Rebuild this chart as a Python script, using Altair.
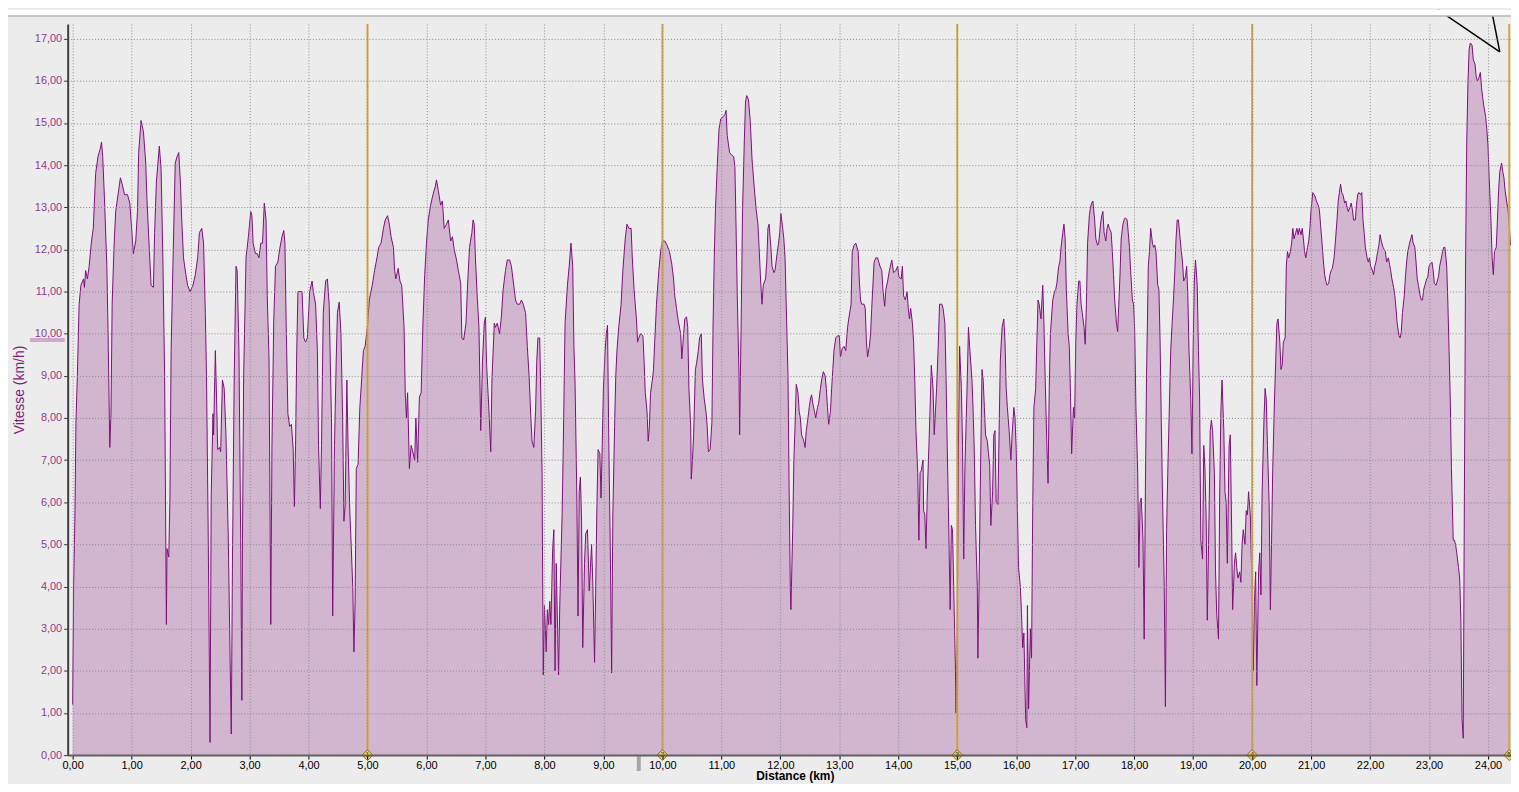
import altair as alt
import pandas as pd

# ---- data (distance km, speed km/h) ----
km_lap1 = [0.0, 0.017, 0.04, 0.056, 0.08, 0.11, 0.14, 0.185, 0.2, 0.22, 0.25, 0.28, 0.32, 0.35, 0.39, 0.43, 0.47, 0.49, 0.51, 0.54,
           0.58, 0.6, 0.63, 0.65, 0.67, 0.7, 0.73, 0.76, 0.79, 0.81, 0.84, 0.88, 0.93, 0.97, 1.0, 1.03, 1.07, 1.1, 1.12, 1.16,
           1.2, 1.24, 1.26, 1.29, 1.33, 1.37, 1.39, 1.42, 1.47, 1.5, 1.53, 1.56, 1.58, 1.59, 1.6, 1.63, 1.65, 1.67, 1.7, 1.74,
           1.77, 1.8, 1.83, 1.85, 1.88, 1.92, 1.95, 1.99, 2.04, 2.08, 2.12, 2.15, 2.19, 2.22, 2.25, 2.27, 2.3, 2.33, 2.35, 2.38,
           2.39, 2.42, 2.44, 2.46, 2.49, 2.51, 2.54, 2.57, 2.6, 2.64, 2.67, 2.69, 2.71, 2.74, 2.77, 2.79, 2.82, 2.85, 2.87, 2.88,
           2.9, 2.94, 2.98, 3.02, 3.04, 3.06, 3.1, 3.13, 3.16, 3.19, 3.22, 3.25, 3.28, 3.3, 3.33, 3.36, 3.38, 3.41, 3.44, 3.48,
           3.51, 3.55, 3.58, 3.6, 3.62, 3.65, 3.68, 3.71, 3.74, 3.76, 3.78, 3.8, 3.82, 3.85, 3.89, 3.92, 3.95, 3.98, 4.02, 4.06,
           4.08, 4.12, 4.15, 4.17, 4.2, 4.22, 4.25, 4.29, 4.32, 4.35, 4.39, 4.41, 4.44, 4.47, 4.49, 4.52, 4.55, 4.58, 4.6, 4.62,
           4.65, 4.67, 4.7, 4.72, 4.75, 4.77, 4.79, 4.81, 4.84, 4.87, 4.9, 4.93, 4.96, 5.0]
kmh_lap1 = [1.2, 4.0, 5.8, 7.9, 9.0, 10.7, 11.15, 11.3, 11.1, 11.5, 11.3, 11.6, 12.2, 12.5, 13.8, 14.2, 14.4, 14.55, 14.2, 13.2,
            11.6, 10.1, 7.3, 8.1, 10.7, 12.0, 12.9, 13.2, 13.5, 13.7, 13.55, 13.3, 13.3, 13.1, 12.5, 11.9, 12.2, 12.9, 14.3, 15.06,
            14.8, 14.05, 13.2, 12.3, 11.15, 11.1, 12.4, 13.6, 14.45, 13.9, 11.8, 9.0, 5.0, 3.1, 4.9, 4.7, 6.1, 9.6, 11.6, 14.05,
            14.2, 14.3, 13.5, 12.7, 11.8, 11.4, 11.15, 11.0, 11.15, 11.4, 11.8, 12.4, 12.5, 12.15, 10.5, 9.0, 5.1, 0.3, 6.2, 8.1,
            7.6, 9.6, 8.5, 7.25, 7.3, 7.2, 8.9, 8.7, 7.6, 5.1, 2.3, 0.5, 4.6, 9.0, 11.6, 11.5, 9.6, 5.1, 1.3, 5.1,
            9.0, 11.8, 12.3, 12.9, 12.8, 12.15, 11.9, 11.9, 11.8, 12.15, 12.15, 13.1, 12.7, 10.9, 9.4, 3.1, 7.35, 10.3, 11.6, 11.7,
            12.0, 12.3, 12.45, 12.15, 10.3, 8.1, 7.8, 7.85, 7.25, 5.9, 7.35, 9.6, 11.0, 11.0, 11.0, 9.9, 9.8, 9.9, 11.0, 11.25,
            11.0, 10.7, 9.6, 7.35, 5.85, 7.35, 10.5, 11.25, 11.3, 10.7, 7.9, 3.3, 7.35, 9.4, 10.5, 10.75, 10.0, 7.9, 5.55, 5.9,
            8.9, 7.35, 5.8, 5.1, 4.0, 2.45, 3.65, 6.8, 6.9, 8.25, 8.9, 9.6, 9.7, 10.2]

km_lap2 = [5.03, 5.08, 5.12, 5.16, 5.19, 5.23, 5.27, 5.3, 5.34, 5.37, 5.4, 5.44, 5.46, 5.48, 5.52, 5.55, 5.58, 5.62, 5.64, 5.66,
           5.68, 5.71, 5.74, 5.76, 5.8, 5.82, 5.85, 5.88, 5.91, 5.94, 5.97, 6.0, 6.03, 6.07, 6.11, 6.15, 6.17, 6.2, 6.24, 6.27,
           6.3, 6.34, 6.37, 6.41, 6.44, 6.47, 6.51, 6.54, 6.58, 6.6, 6.63, 6.67, 6.7, 6.73, 6.77, 6.79, 6.81, 6.83, 6.86, 6.89,
           6.92, 6.95, 6.98, 7.0, 7.02, 7.06, 7.09, 7.11, 7.15, 7.17, 7.2, 7.24, 7.27, 7.3, 7.34, 7.37, 7.41, 7.44, 7.48, 7.51,
           7.54, 7.58, 7.61, 7.64, 7.68, 7.71, 7.74, 7.77, 7.79, 7.82, 7.85, 7.87, 7.89, 7.92, 7.94, 7.96, 7.98, 8.0, 8.03, 8.05,
           8.07, 8.09, 8.11, 8.14, 8.16, 8.18, 8.2, 8.24, 8.26, 8.3, 8.32, 8.35, 8.39, 8.42, 8.45, 8.48, 8.5, 8.52, 8.55, 8.57,
           8.59, 8.61, 8.63, 8.65, 8.68, 8.7, 8.73, 8.76, 8.78, 8.8, 8.82, 8.85, 8.87, 8.89, 8.91, 8.94, 8.96, 8.98, 9.0, 9.03,
           9.05, 9.07, 9.09, 9.12, 9.14, 9.16, 9.19, 9.21, 9.23, 9.26, 9.3, 9.33, 9.37, 9.4, 9.43, 9.47, 9.49, 9.52, 9.56, 9.58,
           9.6, 9.63, 9.67, 9.69, 9.71, 9.74, 9.76, 9.78, 9.8, 9.83, 9.85, 9.87, 9.9, 9.94, 9.97, 10.0]
kmh_lap2 = [10.8, 11.15, 11.5, 11.8, 12.05, 12.15, 12.5, 12.7, 12.8, 12.6, 12.3, 12.05, 11.5, 11.3, 11.55, 11.25, 11.15, 10.15, 8.6, 8.0,
            8.6, 6.8, 7.35, 7.25, 7.0, 8.0, 6.95, 8.5, 8.6, 10.25, 11.4, 12.15, 12.7, 13.05, 13.3, 13.5, 13.65, 13.4, 13.05, 13.15,
            12.5, 12.6, 12.7, 12.2, 12.3, 12.0, 11.75, 11.5, 11.2, 9.9, 9.85, 10.25, 11.25, 12.05, 12.4, 12.7, 12.6, 11.8, 10.9, 10.15,
            7.7, 9.35, 10.25, 10.4, 9.25, 8.15, 7.2, 8.9, 10.25, 10.15, 10.25, 10.0, 10.4, 11.05, 11.5, 11.75, 11.75, 11.6, 11.15, 10.8,
            10.7, 10.7, 10.8, 10.7, 10.5, 9.7, 9.0, 8.0, 7.45, 7.3, 8.15, 9.35, 9.9, 9.9, 8.45, 6.7, 1.9, 3.55, 2.45, 3.45,
            3.1, 3.65, 3.1, 4.9, 5.35, 2.0, 4.55, 1.9, 3.55, 5.7, 7.35, 10.25, 11.15, 11.6, 12.15, 11.6, 9.7, 8.8, 6.1, 3.3,
            6.25, 6.6, 5.55, 2.55, 4.55, 5.25, 5.35, 3.9, 4.45, 5.0, 4.1, 2.2, 4.0, 5.9, 7.25, 7.15, 6.1, 7.35, 8.7, 9.6,
            10.0, 10.2, 7.6, 4.55, 1.95, 5.7, 7.8, 9.0, 9.6, 10.15, 10.7, 11.5, 12.25, 12.6, 12.5, 12.5, 11.8, 11.05, 10.35, 9.8,
            9.9, 10.0, 9.95, 9.35, 8.6, 8.15, 7.45, 7.8, 8.6, 8.9, 9.15, 9.8, 10.7, 11.5, 11.95, 12.2]

km_lap3 = [10.04, 10.08, 10.12, 10.16, 10.19, 10.21, 10.24, 10.27, 10.31, 10.33, 10.35, 10.38, 10.41, 10.43, 10.45, 10.48, 10.49, 10.51, 10.53, 10.56,
           10.58, 10.61, 10.63, 10.66, 10.68, 10.71, 10.74, 10.76, 10.78, 10.81, 10.84, 10.86, 10.88, 10.9, 10.93, 10.96, 10.99, 11.03, 11.06, 11.08,
           11.1, 11.14, 11.17, 11.21, 11.23, 11.25, 11.27, 11.3, 11.31, 11.34, 11.36, 11.39, 11.41, 11.43, 11.46, 11.49, 11.52, 11.55, 11.59, 11.62,
           11.64, 11.67, 11.69, 11.71, 11.75, 11.77, 11.79, 11.81, 11.84, 11.86, 11.89, 11.91, 11.95, 11.97, 11.99, 12.01, 12.04, 12.06, 12.08, 12.1,
           12.13, 12.15, 12.17, 12.18, 12.21, 12.23, 12.25, 12.27, 12.3, 12.32, 12.34, 12.36, 12.4, 12.42, 12.44, 12.46, 12.49, 12.51, 12.53, 12.55,
           12.58, 12.6, 12.63, 12.65, 12.68, 12.7, 12.73, 12.76, 12.78, 12.8, 12.82, 12.85, 12.87, 12.89, 12.91, 12.94, 12.97, 13.0, 13.02, 13.05,
           13.08, 13.11, 13.14, 13.16, 13.2, 13.22, 13.25, 13.28, 13.32, 13.34, 13.36, 13.38, 13.42, 13.44, 13.46, 13.48, 13.51, 13.53, 13.55, 13.59,
           13.62, 13.65, 13.69, 13.72, 13.74, 13.77, 13.79, 13.82, 13.85, 13.89, 13.92, 13.96, 13.99, 14.01, 14.05, 14.07, 14.09, 14.12, 14.15, 14.17,
           14.19, 14.21, 14.24, 14.26, 14.28, 14.3, 14.33, 14.35, 14.37, 14.39, 14.42, 14.43, 14.45, 14.47, 14.49, 14.52, 14.54, 14.56, 14.59, 14.61,
           14.63, 14.65, 14.68, 14.7, 14.72, 14.74, 14.76, 14.79, 14.81, 14.83, 14.85, 14.88, 14.9, 14.92, 14.94, 14.97, 14.98]
kmh_lap3 = [12.2, 12.1, 11.95, 11.65, 11.3, 10.9, 10.6, 10.3, 10.0, 9.4, 9.8, 10.35, 10.4, 10.15, 8.7, 7.8, 6.55, 7.0, 7.6, 9.15,
            9.3, 9.6, 9.9, 10.0, 8.9, 8.45, 8.15, 7.8, 7.2, 7.25, 7.9, 10.25, 11.8, 12.95, 13.95, 14.85, 15.1, 15.15, 15.2, 15.3,
            14.7, 14.3, 14.25, 14.2, 13.95, 12.5, 10.9, 9.0, 7.6, 10.7, 12.95, 14.6, 15.5, 15.65, 15.55, 15.05, 14.15, 13.6, 12.95, 12.6,
            12.05, 11.15, 10.7, 11.15, 11.3, 11.7, 12.5, 12.6, 12.05, 11.6, 11.45, 11.5, 11.95, 12.15, 12.4, 12.85, 12.5, 12.25, 11.8, 10.7,
            9.0, 6.25, 3.9, 3.45, 5.35, 7.0, 7.8, 8.8, 8.6, 8.15, 8.0, 7.6, 7.45, 7.3, 7.7, 7.9, 8.25, 8.45, 8.55, 8.35,
            8.15, 8.0, 8.25, 8.35, 8.7, 8.9, 9.1, 9.0, 8.7, 8.25, 7.85, 8.15, 8.7, 9.15, 9.6, 9.9, 9.95, 9.95, 9.45, 9.65,
            9.7, 9.6, 10.15, 10.35, 10.7, 11.95, 12.1, 12.15, 11.95, 11.25, 10.8, 10.7, 10.7, 10.6, 9.8, 9.45, 9.7, 10.0, 10.6, 11.7,
            11.8, 11.8, 11.6, 11.5, 11.05, 10.65, 11.05, 11.25, 11.5, 11.75, 11.45, 11.5, 11.6, 11.35, 11.3, 11.6, 10.9, 10.8, 11.0, 10.6,
            10.35, 10.6, 10.25, 9.8, 8.9, 7.7, 6.7, 5.1, 6.7, 6.75, 7.0, 5.8, 5.7, 4.9, 6.1, 7.35, 8.25, 9.25, 8.7, 7.6,
            8.15, 8.7, 9.8, 10.7, 10.7, 10.7, 10.6, 10.25, 9.0, 7.35, 5.9, 3.45, 5.45, 5.35, 4.0, 2.0, 1.0]

km_lap4 = [15.0, 15.02, 15.04, 15.07, 15.09, 15.11, 15.13, 15.17, 15.19, 15.21, 15.25, 15.27, 15.29, 15.31, 15.34, 15.35, 15.37, 15.39, 15.42, 15.44,
           15.46, 15.48, 15.51, 15.53, 15.55, 15.57, 15.6, 15.62, 15.64, 15.66, 15.69, 15.71, 15.73, 15.76, 15.79, 15.81, 15.83, 15.85, 15.88, 15.91,
           15.93, 15.96, 15.98, 16.0, 16.02, 16.04, 16.07, 16.09, 16.11, 16.13, 16.16, 16.18, 16.19, 16.21, 16.24, 16.26, 16.28, 16.3, 16.33, 16.35,
           16.37, 16.39, 16.42, 16.45, 16.47, 16.49, 16.52, 16.54, 16.56, 16.58, 16.62, 16.65, 16.67, 16.69, 16.72, 16.74, 16.76, 16.79, 16.81, 16.83,
           16.85, 16.88, 16.9, 16.92, 16.94, 16.97, 16.99, 17.01, 17.03, 17.06, 17.08, 17.1, 17.12, 17.15, 17.17, 17.19, 17.21, 17.24, 17.26, 17.28,
           17.3, 17.33, 17.35, 17.38, 17.4, 17.43, 17.45, 17.47, 17.49, 17.52, 17.54, 17.56, 17.58, 17.61, 17.63, 17.65, 17.67, 17.7, 17.72, 17.74,
           17.76, 17.78, 17.81, 17.83, 17.85, 17.88, 17.9, 17.92, 17.94, 17.97, 17.99, 18.01, 18.03, 18.06, 18.08, 18.1, 18.12, 18.15, 18.17, 18.19,
           18.21, 18.24, 18.26, 18.28, 18.31, 18.33, 18.35, 18.37, 18.4, 18.42, 18.44, 18.46, 18.48, 18.51, 18.53, 18.55, 18.57, 18.6, 18.62, 18.64,
           18.67, 18.69, 18.71, 18.73, 18.75, 18.78, 18.8, 18.82, 18.84, 18.87, 18.89, 18.91, 18.93, 18.96, 18.98, 19.0, 19.02, 19.04, 19.07, 19.09,
           19.11, 19.13, 19.16, 19.18, 19.2, 19.22, 19.24, 19.27, 19.29, 19.31, 19.33, 19.36, 19.38, 19.4, 19.43, 19.45, 19.47, 19.49, 19.52, 19.54,
           19.56, 19.58, 19.61, 19.63, 19.65, 19.67, 19.7, 19.72, 19.74, 19.76, 19.79, 19.81, 19.83, 19.85, 19.88, 19.9, 19.92, 19.94, 19.97, 19.99]
kmh_lap4 = [2.9, 7.35, 9.7, 8.7, 7.35, 4.65, 6.8, 8.9, 10.15, 9.7, 8.9, 8.15, 7.15, 5.45, 4.0, 2.3, 4.0, 6.25, 9.15, 8.9,
            8.25, 7.6, 7.45, 7.15, 6.9, 5.45, 6.25, 7.6, 7.7, 6.0, 5.95, 7.7, 9.35, 10.15, 10.35, 9.8, 8.7, 8.25, 7.7, 7.0,
            7.6, 8.25, 8.0, 7.25, 5.8, 4.45, 4.0, 3.35, 2.55, 2.9, 0.85, 0.65, 3.55, 1.1, 3.0, 2.3, 5.9, 8.25, 8.7, 9.8,
            10.8, 10.7, 10.35, 11.15, 10.25, 9.0, 7.35, 6.45, 8.7, 10.0, 10.8, 11.0, 11.05, 11.2, 11.6, 11.7, 12.05, 12.4, 12.6, 12.25,
            11.05, 10.0, 9.7, 8.6, 7.15, 8.25, 8.0, 9.8, 10.7, 11.25, 11.25, 10.7, 10.5, 10.15, 9.75, 10.7, 12.15, 12.8, 13.0, 13.1,
            13.15, 12.7, 12.25, 12.1, 12.15, 12.6, 12.8, 12.9, 12.4, 12.2, 12.5, 12.6, 12.5, 12.4, 11.95, 11.4, 10.8, 10.25, 10.05, 10.7,
            11.4, 12.25, 12.6, 12.7, 12.75, 12.7, 12.4, 12.05, 11.5, 10.8, 10.7, 10.05, 8.25, 6.7, 4.45, 6.0, 6.1, 5.1, 2.75, 6.25,
            9.0, 11.6, 11.95, 12.5, 12.15, 12.05, 12.1, 11.95, 11.15, 11.05, 9.8, 7.9, 6.25, 4.0, 1.15, 5.35, 6.7, 8.45, 9.6, 10.15,
            10.9, 11.5, 12.25, 12.7, 12.7, 12.25, 11.95, 11.7, 11.25, 11.35, 11.6, 10.9, 9.6, 8.45, 7.15, 9.6, 11.25, 11.75, 11.15, 9.6,
            8.45, 5.1, 4.65, 7.35, 6.8, 5.7, 3.2, 5.7, 7.7, 7.95, 7.7, 6.7, 4.35, 3.35, 2.75, 6.1, 8.15, 8.9, 7.7, 6.25,
            6.0, 4.55, 7.35, 7.6, 5.7, 3.45, 4.55, 4.8, 4.45, 4.2, 4.35, 4.1, 5.0, 5.35, 5.0, 5.8, 5.7, 6.25, 5.7, 4.45]

km_lap5 = [20.0, 20.02, 20.04, 20.06, 20.08, 20.11, 20.13, 20.15, 20.17, 20.2, 20.22, 20.24, 20.26, 20.29, 20.31, 20.33, 20.35, 20.38, 20.4, 20.42,
           20.44, 20.47, 20.49, 20.51, 20.53, 20.56, 20.58, 20.6, 20.62, 20.65, 20.67, 20.69, 20.71, 20.74, 20.76, 20.78, 20.8, 20.83, 20.85, 20.87,
           20.89, 20.91, 20.94, 20.96, 20.98, 21.0, 21.03, 21.05, 21.07, 21.09, 21.12, 21.14, 21.16, 21.18, 21.21, 21.23, 21.25, 21.27, 21.3, 21.32,
           21.34, 21.36, 21.39, 21.41, 21.44, 21.46, 21.48, 21.5, 21.52, 21.54, 21.57, 21.59, 21.61, 21.63, 21.66, 21.68, 21.7, 21.72, 21.75, 21.77,
           21.79, 21.81, 21.84, 21.86, 21.88, 21.9, 21.92, 21.95, 21.97, 21.99, 22.01, 22.04, 22.06, 22.08, 22.1, 22.13, 22.15, 22.17, 22.19, 22.22,
           22.24, 22.26, 22.28, 22.31, 22.33, 22.35, 22.37, 22.4, 22.42, 22.44, 22.46, 22.49, 22.51, 22.53, 22.55, 22.58, 22.6, 22.62, 22.64, 22.67,
           22.69, 22.71, 22.73, 22.76, 22.78, 22.8, 22.82, 22.85, 22.87, 22.89, 22.91, 22.93, 22.96, 22.98, 23.0, 23.02, 23.05, 23.07, 23.09, 23.12,
           23.14, 23.16, 23.18, 23.21, 23.23, 23.25, 23.27, 23.3, 23.32, 23.34, 23.36, 23.38, 23.41, 23.43, 23.45, 23.47, 23.5, 23.52, 23.54, 23.56,
           23.58, 23.6, 23.62, 23.64, 23.66, 23.68, 23.7, 23.73, 23.75, 23.78, 23.8, 23.82, 23.84, 23.87, 23.89, 23.91, 23.93, 23.96, 23.98, 24.0,
           24.02, 24.05, 24.07, 24.09, 24.11, 24.14, 24.16, 24.18, 24.2, 24.23, 24.25, 24.27, 24.29, 24.32, 24.34, 24.36, 24.38]
kmh_lap5 = [3.8, 2.0, 3.65, 4.35, 1.65, 4.35, 4.8, 3.8, 6.25, 7.9, 8.7, 8.45, 7.35, 5.9, 3.45, 5.1, 6.8, 8.45, 9.35, 10.25,
            10.35, 9.8, 9.15, 9.25, 9.8, 9.9, 11.6, 11.95, 11.8, 11.95, 12.15, 12.5, 12.25, 12.4, 12.5, 12.35, 12.5, 12.35, 12.5, 12.25,
            11.95, 11.8, 12.05, 12.2, 12.5, 12.95, 13.35, 13.3, 13.25, 13.15, 13.05, 12.95, 12.6, 12.25, 11.7, 11.4, 11.25, 11.15, 11.2, 11.4,
            11.5, 11.55, 11.8, 12.15, 12.7, 13.15, 13.35, 13.55, 13.35, 13.3, 13.1, 13.15, 13.0, 12.9, 13.0, 13.1, 12.95, 12.7, 12.7, 13.05,
            13.3, 13.35, 13.3, 13.35, 12.7, 12.4, 12.05, 11.8, 11.7, 11.8, 11.6, 11.5, 11.4, 11.6, 11.7, 11.95, 12.1, 12.35, 12.2, 12.05,
            12.0, 11.95, 11.7, 11.8, 11.65, 11.5, 11.3, 11.1, 10.9, 10.6, 10.25, 9.95, 9.9, 10.05, 10.5, 10.9, 11.35, 11.7, 11.95, 12.15,
            12.25, 12.35, 12.15, 12.05, 11.7, 11.3, 11.15, 10.9, 10.8, 10.8, 11.05, 11.15, 11.3, 11.35, 11.6, 11.65, 11.7, 11.5, 11.2, 11.15,
            11.25, 11.35, 11.6, 11.8, 11.95, 12.05, 12.05, 11.6, 10.7, 9.6, 8.45, 6.8, 5.1, 5.1, 5.0, 4.8, 4.45, 4.2, 3.2, 0.85,
            0.4, 6.25, 11.8, 14.6, 15.95, 16.75, 16.9, 16.85, 16.5, 16.4, 16.1, 16.0, 16.05, 16.2, 15.85, 15.6, 15.4, 15.15, 14.85, 14.45,
            13.7, 12.7, 11.8, 11.4, 11.95, 12.05, 12.7, 13.4, 13.85, 14.05, 13.85, 13.7, 13.4, 13.1, 12.95, 12.6, 12.1]

lap_km = [5.0, 10.0, 15.0, 20.0, 24.36]
lap_no = ["1", "2", "3", "4", "5"]
y_ticks = list(range(0, 18))
x_ticks = list(range(0, 25))
avg_speed = 9.85
marker_km = 9.6
arrow_tip_km, arrow_tip_kmh = 24.2, 16.69
arrow_tails_km = [23.16, 24.06]

km = km_lap1 + km_lap2 + km_lap3 + km_lap4 + km_lap5
kmh = kmh_lap1 + kmh_lap2 + kmh_lap3 + kmh_lap4 + kmh_lap5
df = pd.DataFrame({"km": km, "kmh": kmh})
laps = pd.DataFrame({"km": lap_km, "lap": lap_no})

BG = "#ECECEC"
FILL = "#D2B5CE"
LINE = "#7E0E7C"
GOLD = "#CDA844"
PURPLE_TXT = "#8E3A8A"
FONT = "Liberation Sans"

W, H = 1451, 735
xs = alt.Scale(domain=[-0.084, 24.39], nice=False, zero=False)
ys = alt.Scale(domain=[0, 17.35], nice=False, zero=True)
lab = "replace(format(datum.value, '.2f'), '.', ',')"

x_axis = alt.Axis(values=x_ticks, labelExpr=lab, title="Distance (km)", grid=True,
                  gridColor="#8A8A8A", gridDash=[1, 2], gridWidth=1,
                  domainColor="#606060", domainWidth=2, tickColor="#000000", tickSize=4,
                  labelColor="#000000", labelFont=FONT, labelFontSize=11, labelPadding=0,
                  titleFont=FONT, titleFontSize=12, titleFontWeight="bold", titleColor="#000000",
                  titleX=731, titleY=21, titleBaseline="middle", titleAlign="center", zindex=1)
y_axis = alt.Axis(values=y_ticks, labelExpr=lab, title="Vitesse (km/h)", grid=True,
                  gridColor="#8A8A8A", gridDash=[1, 2], gridWidth=1,
                  domainColor="#404040", domainWidth=2, tickColor="#303030", tickSize=4,
                  labelColor=PURPLE_TXT, labelFont=FONT, labelFontSize=11, labelPadding=2,
                  titleFont=FONT, titleFontSize=14, titleFontWeight="normal", titleColor="#7E1A7B",
                  titleX=-48, titleY=H / 2, titleAngle=270, titleBaseline="middle", titleAlign="center", zindex=1)

X = alt.X("km:Q", scale=xs, axis=x_axis)
Y = alt.Y("kmh:Q", scale=ys, axis=y_axis)

area = alt.Chart(df).mark_area(color=FILL, opacity=1, line={"color": LINE, "strokeWidth": 1}, clip=True).encode(
    x=X, y=Y,
)

lap_rules = alt.Chart(laps).mark_rule(color=GOLD, strokeWidth=2).encode(
    x=X, y=alt.value(0), y2=alt.value(H),
)
diamonds = alt.Chart(laps).mark_point(shape="diamond", filled=True, size=120, color="#F0D252",
                                      stroke="#8A7020", strokeWidth=1, opacity=1).encode(
    x=X, y=alt.value(H),
)
dia_txt = alt.Chart(laps).mark_text(fontSize=7, font=FONT, color="#333", baseline="middle").encode(
    x=X, y=alt.value(H), text="lap:N",
)

avg_df = pd.DataFrame({"kmh": [avg_speed]})
avg_mark = alt.Chart(avg_df).mark_rule(color="#D0A9CD", strokeWidth=4).encode(
    y=Y, x=alt.value(-38), x2=alt.value(-3),
)
mk_df = pd.DataFrame({"km": [marker_km]})
pos_mark = alt.Chart(mk_df).mark_rule(color="#A6A6A6", strokeWidth=4).encode(
    x=X, y=alt.value(H + 1), y2=alt.value(H + 16),
)

arrow_df = pd.DataFrame({"km": [arrow_tip_km] * 2, "km2": arrow_tails_km, "kmh": [arrow_tip_kmh] * 2})
arrow = alt.Chart(arrow_df).mark_rule(color="#000000", strokeWidth=1.5).encode(
    x=X, x2="km2:Q", y=Y, y2=alt.value(-14),
)

deco_df = pd.DataFrame({"v": [0]})
top_white = alt.Chart(deco_df).mark_rect(color="#FFFFFF").encode(
    x=alt.value(-62), x2=alt.value(W), y=alt.value(-14), y2=alt.value(-8),
)
top_line = alt.Chart(deco_df).mark_rule(color="#B4B4B4", strokeWidth=1.5).encode(
    x=alt.value(-62), x2=alt.value(W), y=alt.value(-8),
)

chart = alt.layer(area, lap_rules, diamonds, dia_txt, avg_mark, pos_mark, arrow, top_white, top_line).properties(
    width=W, height=H,
    background=BG,
    padding={"left": 60, "top": 14, "right": 0, "bottom": 27},
    autosize=alt.AutoSizeParams(type="none"),
).configure_view(stroke=None, fill=BG)

chart.save("out.html", embed_options={"renderer": "svg", "actions": False})
